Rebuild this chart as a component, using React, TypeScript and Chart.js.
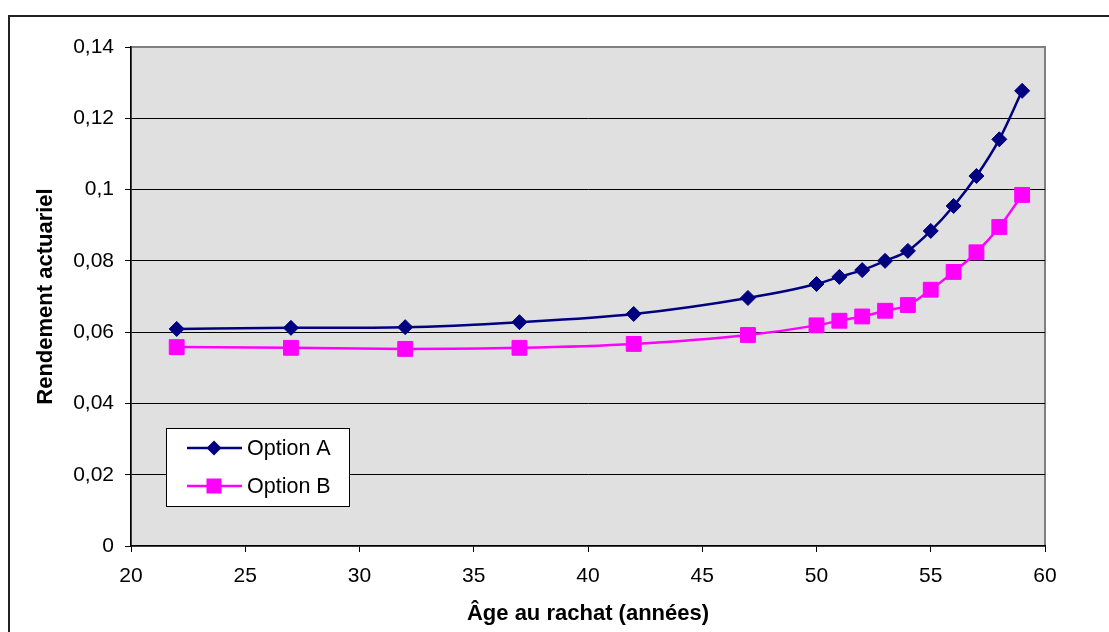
import React, { useEffect, useRef } from "react";
import { Chart, registerables } from "chart.js";

Chart.register(...registerables);

const ages = [22, 27, 32, 37, 42, 47, 50, 51, 52, 53, 54, 55, 56, 57, 58, 59];
const optionA = [0.0609, 0.0612, 0.0614, 0.0628, 0.0651, 0.0696, 0.0735, 0.0755, 0.0774, 0.08, 0.0828, 0.0884, 0.0954, 0.1038, 0.1141, 0.1277];
const optionB = [0.0558, 0.0556, 0.0553, 0.0556, 0.0567, 0.0592, 0.0619, 0.0632, 0.0644, 0.066, 0.0676, 0.0719, 0.0769, 0.0824, 0.0895, 0.0985];
const seriesLabels = ["Option A", "Option B"];
const xTitle = "Âge au rachat (années)";
const yTitle = "Rendement actuariel";

const FONT = "'Liberation Sans', Arial, sans-serif";

const bgPlugin = {
  id: "plotBg",
  beforeDraw(chart: any) {
    const { ctx, chartArea: a } = chart;
    ctx.save();
    ctx.fillStyle = "#FFFFFF";
    ctx.fillRect(0, 0, chart.width, chart.height);
    ctx.fillStyle = "#E0E0E0";
    ctx.fillRect(a.left, a.top, a.right - a.left, a.bottom - a.top);
    ctx.strokeStyle = "#808080";
    ctx.lineWidth = 2;
    ctx.strokeRect(a.left, a.top, a.right - a.left, a.bottom - a.top);
    ctx.restore();
  },
};

const legendPlugin = {
  id: "insideLegend",
  afterDraw(chart: any) {
    const { ctx } = chart;
    const box = { x: 156, y: 411, w: 183, h: 78 };
    ctx.save();
    ctx.fillStyle = "#FFFFFF";
    ctx.fillRect(box.x, box.y, box.w, box.h);
    ctx.strokeStyle = "#000000";
    ctx.lineWidth = 1;
    ctx.strokeRect(box.x + 0.5, box.y + 0.5, box.w, box.h);
    const rows = [431, 469];
    chart.data.datasets.forEach((ds: any, i: number) => {
      const y = rows[i];
      ctx.strokeStyle = ds.borderColor;
      ctx.lineWidth = ds.borderWidth;
      ctx.beginPath();
      ctx.moveTo(177, y);
      ctx.lineTo(232, y);
      ctx.stroke();
      ctx.fillStyle = ds.pointBackgroundColor;
      const cx = 204;
      if (ds.pointStyle === "rectRot") {
        const r = 7.5;
        ctx.beginPath();
        ctx.moveTo(cx, y - r);
        ctx.lineTo(cx + r, y);
        ctx.lineTo(cx, y + r);
        ctx.lineTo(cx - r, y);
        ctx.closePath();
        ctx.fill();
      } else {
        const s = 7.5;
        ctx.fillRect(cx - s, y - s, 2 * s, 2 * s);
      }
      ctx.fillStyle = "#000000";
      ctx.font = `21.5px ${FONT}`;
      ctx.textBaseline = "middle";
      ctx.textAlign = "left";
      ctx.fillText(ds.label, 237, y + 1);
    });
    ctx.restore();
  },
};

function fmt(v: number) {
  return Number(v.toFixed(2)).toString().replace(".", ",");
}

export default function App() {
  const ref = useRef<HTMLCanvasElement | null>(null);
  useEffect(() => {
    document.body.style.overflow = "hidden";
    const canvas = ref.current!;
    const chart = new Chart(canvas, {
      type: "line",
      data: {
        datasets: [
          {
            label: seriesLabels[0],
            data: ages.map((x, i) => ({ x, y: optionA[i] })),
            borderColor: "#000080",
            backgroundColor: "#000080",
            pointBackgroundColor: "#000080",
            pointBorderColor: "#000080",
            borderWidth: 2.5,
            pointStyle: "rectRot",
            pointRadius: 7.5,
            pointBorderWidth: 1,
            cubicInterpolationMode: "monotone",
            fill: false,
          },
          {
            label: seriesLabels[1],
            data: ages.map((x, i) => ({ x, y: optionB[i] })),
            borderColor: "#FF00FF",
            backgroundColor: "#FF00FF",
            pointBackgroundColor: "#FF00FF",
            pointBorderColor: "#FF00FF",
            borderWidth: 2.5,
            pointStyle: "rect",
            pointRadius: 10.5,
            pointBorderWidth: 1,
            cubicInterpolationMode: "monotone",
            fill: false,
          },
        ],
      },
      options: {
        animation: false,
        responsive: false,
        maintainAspectRatio: false,
        layout: { padding: { left: 0, top: 30, right: 64, bottom: 0 } },
        plugins: {
          legend: { display: false },
          tooltip: { enabled: false },
        },
        scales: {
          x: {
            type: "linear",
            min: 20,
            max: 60,
            afterFit: (s: any) => {
              s.height = 86;
            },
            ticks: {
              stepSize: 5,
              color: "#000",
              padding: 12,
              font: { family: FONT, size: 21 },
            },
            grid: {
              color: "rgba(0,0,0,0)",
              tickColor: "#000",
              tickLength: 6,
              drawOnChartArea: false,
            },
            border: { color: "#000", width: 1.5 },
            title: {
              display: true,
              text: xTitle,
              color: "#000",
              font: { family: FONT, size: 22, weight: "bold" },
              padding: { top: 0, bottom: 5 },
            },
          },
          y: {
            min: 0,
            max: 0.14,
            afterFit: (s: any) => {
              s.width = 121;
            },
            ticks: {
              stepSize: 0.02,
              color: "#000",
              padding: 11,
              font: { family: FONT, size: 21 },
              callback: (v: any) => fmt(Number(v)),
            },
            grid: {
              color: (c: any) =>
                c.tick && (Math.abs(c.tick.value - 0.14) < 1e-6 || c.tick.value === 0)
                  ? "rgba(0,0,0,0)"
                  : "#000",
              lineWidth: 1,
              tickColor: "#000",
              tickLength: 6,
            },
            border: { color: "#000", width: 1.5 },
            title: {
              display: true,
              text: yTitle,
              color: "#000",
              font: { family: FONT, size: 22, weight: "bold" },
              padding: { top: 23, bottom: 0 },
            },
          },
        },
      },
      plugins: [bgPlugin, legendPlugin],
    } as any);
    return () => chart.destroy();
  }, []);

  return (
    <div
      style={{
        position: "absolute",
        left: 8,
        top: 15,
        width: 1101,
        height: 617,
        borderTop: "2px solid #222",
        borderLeft: "2px solid #222",
        boxSizing: "border-box",
        background: "#fff",
      }}
    >
      <canvas ref={ref} width={1099} height={615} style={{ display: "block", width: 1099, height: 615 }} />
    </div>
  );
}
